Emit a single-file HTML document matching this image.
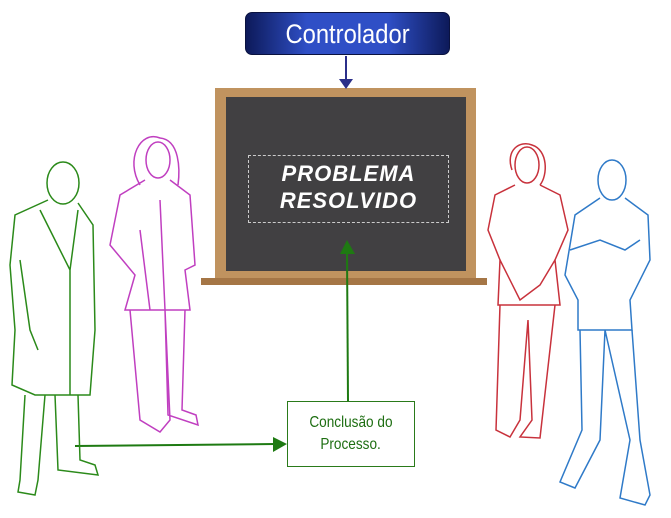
<!DOCTYPE html>
<html><head><style>
body{margin:0;width:671px;height:518px;background:#fff;overflow:hidden;position:relative;font-family:"Liberation Sans",sans-serif}
.ctl{position:absolute;left:245px;top:12px;width:205px;height:43px;border-radius:7px;background:linear-gradient(90deg,#0d1a5a,#2f4fc6 30%,#2f4fc6 70%,#0d1a5a);border:1px solid #0a123f;color:#fff;font-size:27px;text-align:center;line-height:43px;box-sizing:border-box}
.ctl span{display:inline-block;transform:scaleX(0.88)}
.frame{position:absolute;left:215px;top:88px;width:261px;height:192px;background:#c0935f;}
.inner{position:absolute;left:226px;top:97px;width:240px;height:174px;background:#414042}
.shelf{position:absolute;left:201px;top:278px;width:286px;height:7px;background:#a57646}
.dash{position:absolute;left:248px;top:155px;width:199px;height:66px;border:1.5px dashed #ccc}
.pr{position:absolute;left:248px;top:160px;width:201px;text-align:center;color:#fff;font-style:italic;font-weight:bold;font-size:22px;line-height:27px;letter-spacing:1px}
.box{position:absolute;left:287px;top:401px;width:128px;height:66px;border:1px solid #2a7a1a;background:#fff;color:#1e6e12;font-size:16px;text-align:center;line-height:22px;box-sizing:border-box;padding-top:10px}
.box span{display:inline-block;transform:scaleX(0.85);white-space:nowrap}
</style></head><body>
<div class="ctl"><span>Controlador</span></div>
<div class="frame"></div><div class="inner"></div><div class="shelf"></div>
<div class="dash"></div>
<div class="pr">PROBLEMA<br>RESOLVIDO</div>
<svg width="671" height="518" style="position:absolute;left:0;top:0" fill="none">
<line x1="346" y1="56" x2="346" y2="80" stroke="#2b2f8a" stroke-width="2"/>
<polygon points="339,79 353,79 346,89" fill="#2b2f8a"/>
<line x1="348" y1="401" x2="347" y2="252" stroke="#1e7a12" stroke-width="2"/>
<polygon points="340,254 355,254 347,240" fill="#1e7a12"/>
<line x1="75" y1="446" x2="275" y2="444" stroke="#1e7a12" stroke-width="2"/>
<polygon points="273,437 273,452 287,444" fill="#1e7a12"/>
<g stroke="#2b8a1a" stroke-width="1.5">
<ellipse cx="63" cy="183" rx="16" ry="21"/>
<path d="M48 200 L15 215 L10 265 L15 330 L12 385 L35 395 L90 395 L95 330 L93 225 L78 203"/>
<path d="M40 210 L50 230 L70 270 L78 210 M70 270 L70 395"/>
<path d="M25 395 L20 480 L18 492 L35 495 L38 480 L45 395 M55 395 L58 470 L98 475 L95 465 L80 460 L78 395"/>
<path d="M20 260 L30 330 L38 350"/>
</g>
<g stroke="#c03fc0" stroke-width="1.5">
<path d="M140 185 C125 160 140 130 160 138 C180 140 180 170 178 185"/>
<ellipse cx="158" cy="160" rx="12" ry="18"/>
<path d="M145 180 L120 195 L110 245 L135 275 L125 310 L190 310 L185 270 L195 265 L190 195 L170 180"/>
<path d="M130 310 L140 420 L160 432 L170 420 L165 310 M165 310 L168 415 L198 425 L196 415 L182 410 L185 310"/>
<path d="M140 230 L150 310 M160 200 L165 310"/>
</g>
<g stroke="#c8323c" stroke-width="1.5">
<path d="M512 170 C505 150 520 140 532 145 C548 150 548 175 540 185"/>
<ellipse cx="527" cy="165" rx="12" ry="18"/>
<path d="M515 185 L495 195 L488 230 L500 260 L498 305 L560 305 L555 260 L568 230 L560 195 L540 185"/>
<path d="M500 305 L496 430 L510 437 L520 420 L528 320 L532 420 L520 437 L540 438 L555 305"/>
<path d="M500 260 L520 300 L540 285 L555 260"/>
</g>
<g stroke="#2f7ac8" stroke-width="1.5">
<ellipse cx="612" cy="180" rx="14" ry="20"/>
<path d="M600 198 L575 215 L565 275 L578 300 L578 330 L632 330 L630 300 L650 260 L648 215 L625 198"/>
<path d="M570 250 L600 240 L625 250 L640 240"/>
<path d="M580 330 L582 430 L560 482 L575 488 L600 440 L605 330 M605 330 L630 440 L620 498 L645 505 L650 495 L640 440 L632 330"/>
</g>
</svg>
<div class="box"><span>Conclusão do</span><br><span>Processo.</span></div>
</body></html>
